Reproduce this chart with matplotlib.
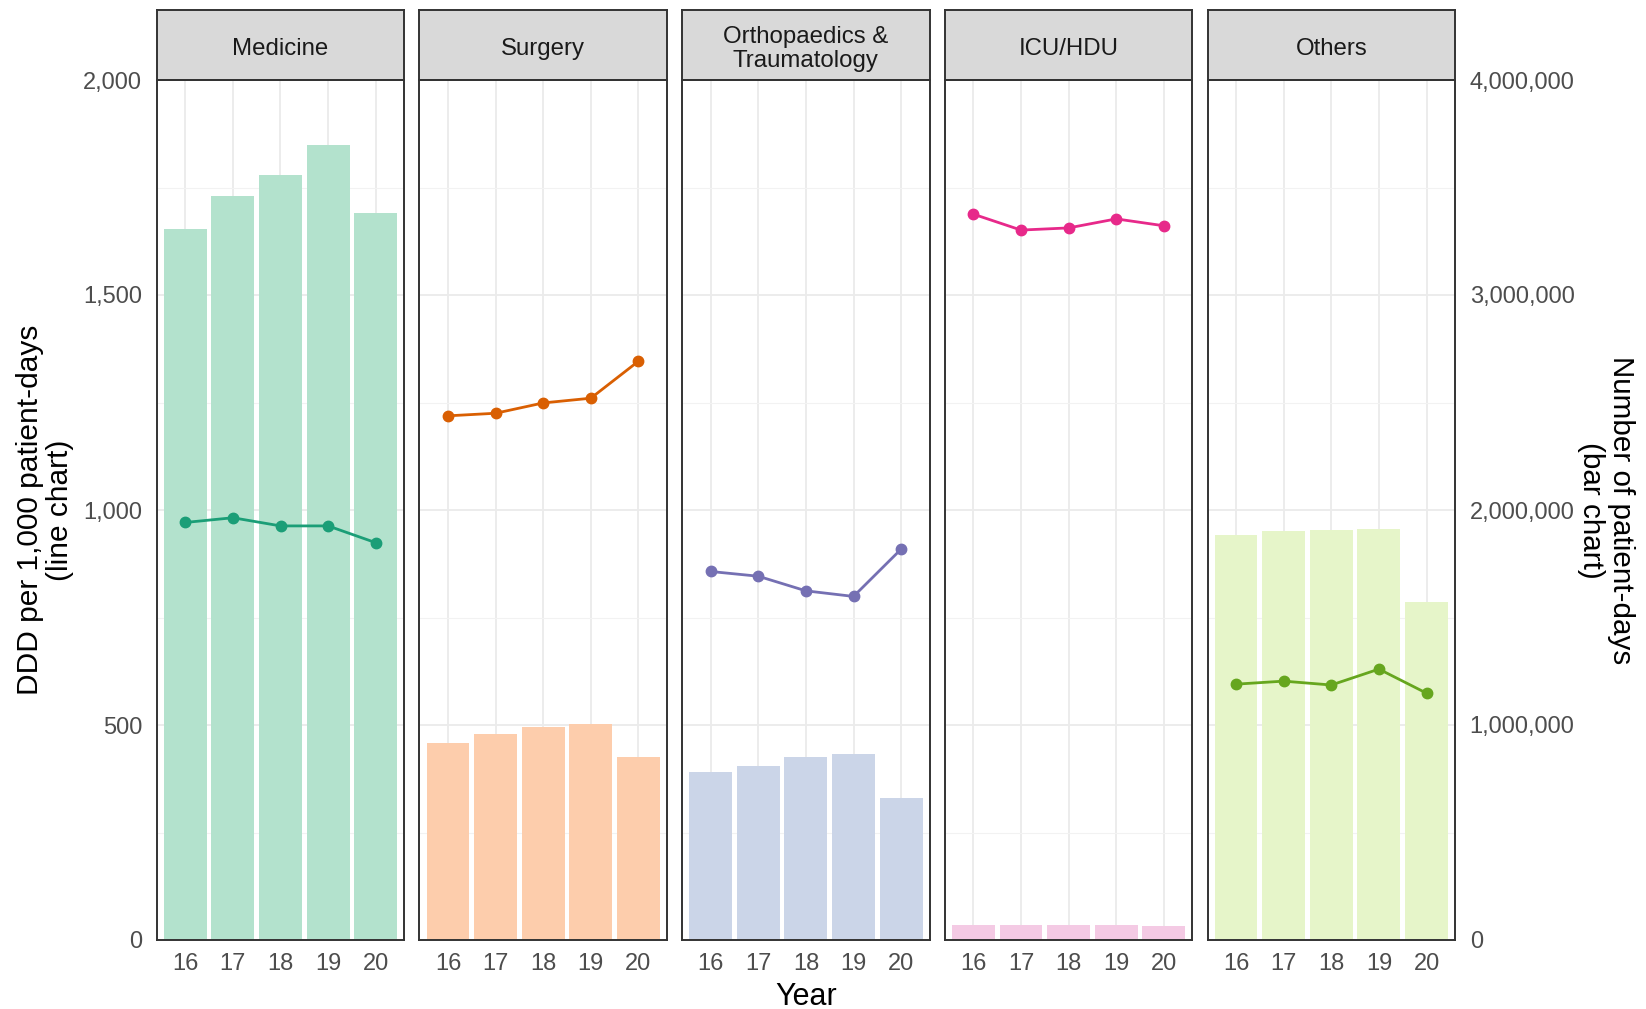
import numpy as np
import matplotlib.pyplot as plt
from matplotlib.ticker import FixedLocator, StrMethodFormatter

plt.rcParams['font.family'] = ['Liberation Sans', 'DejaVu Sans']

#  Data
years = ['16', '17', '18', '19', '20']
wards = ['Medicine', 'Surgery', 'Orthopaedics &\nTraumatology', 'ICU/HDU', 'Others']

# DDD per 1,000 patient-days (lines)
ddd_medicine = [971, 982, 963, 963, 924]
ddd_surgery = [1219, 1225, 1249, 1260, 1346]
ddd_ortho = [857, 846, 812, 799, 909]
ddd_icu = [1688, 1651, 1656, 1677, 1661]
ddd_others = [595, 602, 593, 630, 574]

# number of patient-days (bars)
pd_medicine = [3306000, 3462000, 3558000, 3698000, 3382000]
pd_surgery = [916000, 960000, 990000, 1005000, 850000]
pd_ortho = [783000, 811000, 853000, 864000, 659000]
pd_icu = [70000, 70000, 70000, 69000, 65000]
pd_others = [1884000, 1901000, 1907000, 1912000, 1572000]

ddd_all = [ddd_medicine, ddd_surgery, ddd_ortho, ddd_icu, ddd_others]
pd_all = [pd_medicine, pd_surgery, pd_ortho, pd_icu, pd_others]

line_colors = ['#1B9E77', '#D95F02', '#7570B3', '#E7298A', '#66A61E']
bar_colors = ['#B3E2CD', '#FDCDAC', '#CBD5E8', '#F4CAE4', '#E6F5C9']

W, H = 1646, 1009
fig = plt.figure(figsize=(W / 100, H / 100), dpi=100)

panel_w = 247.6
gap = 15.1
left0 = 156.7
top_px, bottom_px, strip_top = 80, 940, 9.5
border = '#333333'
tick_col = '#4D4D4D'

x = np.arange(len(years))

for i in range(5):
    lft = left0 + i * (panel_w + gap)
    rect = [lft / W, 1 - bottom_px / H, panel_w / W, (bottom_px - top_px) / H]
    ax = fig.add_axes(rect)
    ax2 = ax.twinx()

    # bars on the patient-days scale (underneath)
    ax2.bar(x, pd_all[i], width=0.9, color=bar_colors[i], zorder=2)
    ax2.set_ylim(0, 4000000)
    ax2.yaxis.set_major_locator(FixedLocator([0, 1e6, 2e6, 3e6, 4e6]))
    ax2.yaxis.set_minor_locator(FixedLocator([5e5, 1.5e6, 2.5e6, 3.5e6]))
    ax2.yaxis.set_major_formatter(StrMethodFormatter('{x:,.0f}'))
    ax2.xaxis.set_visible(True)
    ax2.tick_params(axis='x', length=0, labelbottom=False, labeltop=False)
    ax2.grid(True, which='major', axis='both', color='#EBEBEB', lw=1.3, zorder=0)
    ax2.grid(True, which='minor', axis='y', color='#F2F2F2', lw=0.8, zorder=0)
    ax2.set_axisbelow(True)
    ax2.tick_params(axis='y', which='both', length=0, pad=10.5,
                    labelsize=17, labelcolor=tick_col)
    if i < 4:
        ax2.tick_params(axis='y', labelright=False)
    for s in ax2.spines.values():
        s.set_visible(False)

    # lines on the DDD scale (on top)
    ax.set_zorder(ax2.get_zorder() + 1)
    ax.patch.set_visible(False)
    ax.plot(x, ddd_all[i], color=line_colors[i], lw=2, marker='o', ms=7.5)
    ax.set_ylim(0, 2000)
    ax.set_xlim(-0.6, 4.6)
    ax.set_yticks([0, 500, 1000, 1500, 2000])
    ax.yaxis.set_major_formatter(StrMethodFormatter('{x:,.0f}'))
    ax.set_xticks(x)
    ax.set_xticklabels(years)
    ax.tick_params(axis='both', length=0, labelsize=17, labelcolor=tick_col)
    ax.tick_params(axis='y', pad=10.5)
    ax.tick_params(axis='x', pad=9)
    if i > 0:
        ax.tick_params(axis='y', labelleft=False)
    for s in ax.spines.values():
        s.set_color(border)
        s.set_linewidth(1.4)

    # facet strip
    sax = fig.add_axes([lft / W, 1 - top_px / H, panel_w / W, (top_px - strip_top) / H])
    sax.set_facecolor('#D9D9D9')
    sax.set_xticks([])
    sax.set_yticks([])
    for s in sax.spines.values():
        s.set_color(border)
        s.set_linewidth(1.4)
    sax.text(0.5, 0.44, wards[i], ha='center', va='center', fontsize=17.3,
             color='#1A1A1A', linespacing=1.12, transform=sax.transAxes)

fig.text(45 / W, 1 - 510 / H, 'DDD per 1,000 patient-days\n(line chart)',
         rotation=90, ha='center', va='center', fontsize=21.5,
         multialignment='center', linespacing=1.05)
fig.text(1606 / W, 1 - 510 / H, 'Number of patient-days\n(bar chart)',
         rotation=270, ha='center', va='center', fontsize=21.3,
         multialignment='center', linespacing=1.05)
fig.text(806 / W, 1 - 997 / H, 'Year', ha='center', va='center', fontsize=22)

plt.savefig('out.png', dpi=100)
